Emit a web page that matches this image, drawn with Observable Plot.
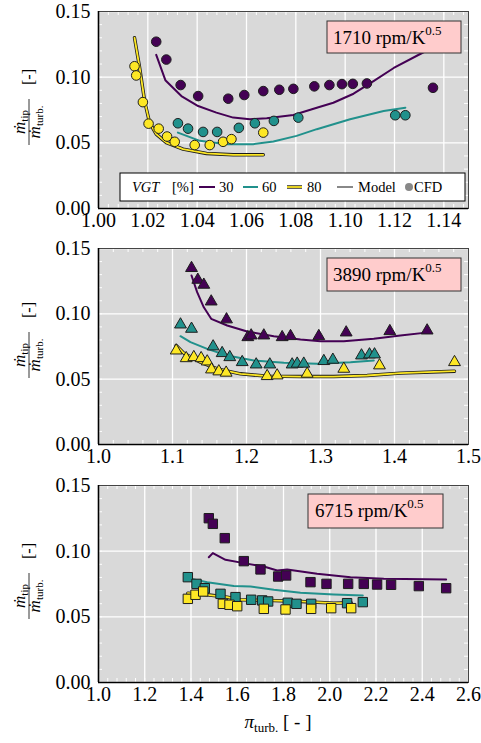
<!DOCTYPE html>
<html><head><meta charset="utf-8">
<script src="https://cdn.jsdelivr.net/npm/d3@7"></script>
<script src="https://cdn.jsdelivr.net/npm/@observablehq/plot@0.6"></script>
<style>
body{margin:0;background:#fff;}
#chart{position:relative;width:481px;height:743px;}
#chart svg{position:absolute;left:0;}
</style></head><body><div id="chart"></div>
<script>
// ---------- data ----------
const vgtLevels = ["30", "60", "80"];
const vgtColors = ["#440154", "#21918c", "#fde725"];
const speedLabels = ["1710", "3890", "6715"];
const yTicks = [0, 0.05, 0.10, 0.15];
const xTicks1710 = [1.00, 1.02, 1.04, 1.06, 1.08, 1.10, 1.12, 1.14];
const xTicks3890 = [1.0, 1.1, 1.2, 1.3, 1.4, 1.5];
const xTicks6715 = [1.0, 1.2, 1.4, 1.6, 1.8, 2.0, 2.2, 2.4, 2.6];

// 1710 rpm/K^0.5  [pi_turb, mdot_tip/mdot_turb]
const cfd1710_vgt30 = [[1.0234,0.127],[1.0275,0.1134],[1.0333,0.094],[1.0404,0.0856],[1.0526,0.0836],[1.0591,0.0864],[1.0668,0.0894],[1.0733,0.0904],[1.079,0.0911],[1.0875,0.093],[1.0936,0.094],[1.0987,0.0947],[1.1031,0.0949],[1.1088,0.0952],[1.1356,0.0919]];
const model1710_vgt30 = [[1.0234,0.117],[1.0271,0.0977],[1.0336,0.0856],[1.0404,0.078],[1.0478,0.073],[1.0546,0.0692],[1.0614,0.068],[1.0682,0.0687],[1.079,0.0712],[1.0885,0.0767],[1.0952,0.0805],[1.1034,0.0874],[1.1115,0.097],[1.1197,0.107],[1.1312,0.1184],[1.14,0.127]];
const cfd1710_vgt60 = [[1.0322,0.0649],[1.0363,0.0608],[1.0424,0.0583],[1.0481,0.0583],[1.0569,0.0614],[1.0634,0.0649],[1.0711,0.0667],[1.081,0.0692],[1.1203,0.071],[1.1244,0.071]];
const model1710_vgt60 = [[1.0322,0.0578],[1.0411,0.0515],[1.0519,0.049],[1.0627,0.049],[1.0709,0.051],[1.0803,0.0553],[1.0885,0.0604],[1.102,0.068],[1.1156,0.0742],[1.1244,0.0767]];
const cfd1710_vgt80 = [[1.0146,0.1083],[1.0153,0.1013],[1.018,0.081],[1.0203,0.0646],[1.0244,0.0608],[1.0278,0.0548],[1.0309,0.0508],[1.039,0.0483],[1.0451,0.0483],[1.0505,0.0508],[1.0539,0.0528],[1.0668,0.0578]];
const model1710_vgt80 = [[1.0146,0.13],[1.0167,0.107],[1.0187,0.0818],[1.0207,0.0654],[1.0234,0.0566],[1.0275,0.0502],[1.0343,0.0452],[1.0438,0.0419],[1.0546,0.0409],[1.0668,0.0409]];

// 3890 rpm/K^0.5
const cfd3890_vgt30 = [[1.1257,0.135],[1.1342,0.126],[1.1423,0.1222],[1.1523,0.1094],[1.173,0.0957],[1.2018,0.0821],[1.2063,0.0834],[1.2234,0.0834],[1.2482,0.0821],[1.2595,0.0829],[1.2977,0.0829],[1.3347,0.0857],[1.3937,0.0867],[1.4441,0.0872]];
const model3890_vgt30 = [[1.1257,0.1293],[1.1333,0.1166],[1.1423,0.105],[1.1523,0.0962],[1.1739,0.0911],[1.2009,0.0865],[1.2369,0.0829],[1.273,0.0804],[1.3,0.0791],[1.3315,0.0791],[1.372,0.0809],[1.408,0.0834],[1.4486,0.086]];
const cfd3890_vgt60 = [[1.1108,0.0918],[1.1257,0.0885],[1.1549,0.075],[1.1671,0.0699],[1.1774,0.0668],[1.1942,0.063],[1.2131,0.0612],[1.2315,0.0612],[1.2617,0.0612],[1.2685,0.0618],[1.2774,0.0618],[1.3045,0.0638],[1.3167,0.0648],[1.3554,0.0681],[1.3662,0.0689],[1.373,0.0689]];
const model3890_vgt60 = [[1.1108,0.0829],[1.1243,0.0783],[1.1469,0.0732],[1.1739,0.0681],[1.2099,0.0643],[1.2505,0.0625],[1.2955,0.0618],[1.3405,0.063],[1.372,0.0643]];
const cfd3890_vgt80 = [[1.105,0.0719],[1.1185,0.066],[1.1288,0.0668],[1.1387,0.066],[1.1469,0.0635],[1.1527,0.0574],[1.1626,0.0559],[1.1725,0.0549],[1.2279,0.0523],[1.2414,0.0528],[1.282,0.0541],[1.3315,0.0579],[1.3797,0.0605],[1.4811,0.063]];
const model3890_vgt80 = [[1.105,0.0758],[1.1153,0.0699],[1.1378,0.063],[1.1604,0.0579],[1.1919,0.0541],[1.2279,0.0523],[1.273,0.052],[1.3178,0.052],[1.3631,0.0528],[1.4081,0.0546],[1.4811,0.0561]];

// 6715 rpm/K^0.5
const cfd6715_vgt30 = [[1.477,0.1251],[1.4944,0.1208],[1.546,0.1099],[1.6283,0.0924],[1.7005,0.0861],[1.777,0.0807],[1.8114,0.0815],[1.9167,0.0764],[1.9859,0.0751],[2.0796,0.0751],[2.1472,0.0751],[2.2047,0.0746],[2.2652,0.0744],[2.3852,0.0734],[2.5034,0.0718]];
const model6715_vgt30 = [[1.477,0.0954],[1.4944,0.0985],[1.5492,0.0934],[1.6283,0.0909],[1.7149,0.0883],[1.7726,0.0853],[1.8157,0.0861],[1.9452,0.0828],[2.0897,0.0802],[2.2337,0.079],[2.5034,0.0784]];
const cfd6715_vgt60 = [[1.3863,0.0802],[1.4238,0.0751],[1.4597,0.0718],[1.5276,0.0675],[1.5924,0.065],[1.6603,0.063],[1.7077,0.0625],[1.7336,0.0617],[1.8184,0.0607],[1.8562,0.0599],[1.9196,0.0599],[2.075,0.0604],[2.1429,0.0612]];
const model6715_vgt60 = [[1.3978,0.079],[1.4701,0.0764],[1.5852,0.0734],[1.6573,0.0731],[1.7582,0.0706],[1.8735,0.0683],[2.0177,0.067],[2.1429,0.0663]];
const cfd6715_vgt80 = [[1.3863,0.0637],[1.4195,0.0668],[1.4527,0.0693],[1.5376,0.0599],[1.5665,0.0592],[1.5998,0.0581],[1.7149,0.0561],[1.8087,0.0556],[1.9196,0.0561],[2.0062,0.0566],[2.0927,0.0566]];
const model6715_vgt80 = [[1.3863,0.068],[1.4701,0.0668],[1.5561,0.065],[1.614,0.063],[1.7295,0.0625],[1.8735,0.0617],[2.0177,0.0604],[2.0927,0.0607]];

// ---------- rendering ----------
const serif = "'Liberation Serif', 'DejaVu Serif', serif";
const W = 481, ML = 98, MR = 13, MT = 11;
const root = d3.select("#chart");

function panel(cfg) {
  const plotH = cfg.height - MT - cfg.marginBottom;
  const plotW = W - ML - MR;
  const yMinor = d3.range(0, 0.1501, 0.01);
  const marks = [
    Plot.frame({fill: "#d9d9d9", stroke: null}),
    Plot.ruleX(cfg.xTicks, {stroke: "white", strokeWidth: 1.3}),
    Plot.ruleY(yTicks, {stroke: "white", strokeWidth: 1.3}),
    Plot.tickX(cfg.xMinor, {x: d => d, stroke: "white", strokeWidth: 1, insetBottom: plotH - 4}),
    Plot.tickX(cfg.xMinor, {x: d => d, stroke: "white", strokeWidth: 1, insetTop: plotH - 4}),
    Plot.tickY(yMinor, {y: d => d, stroke: "white", strokeWidth: 1, insetRight: plotW - 4}),
    Plot.tickY(yMinor, {y: d => d, stroke: "white", strokeWidth: 1, insetLeft: plotW - 4}),
    Plot.axisX(cfg.xTicks, {anchor: "bottom", tickSize: 0, tickPadding: 4, tickFormat: d3.format(cfg.xFormat), fontSize: 20, fontFamily: serif, label: null}),
    Plot.axisY(yTicks, {anchor: "left", tickSize: 0, tickPadding: 8, tickFormat: d3.format(".2f"), fontSize: 20, fontFamily: serif, label: null})
  ];
  cfg.series.forEach((s, i) => {
    const color = vgtColors[i];
    if (i === 2) marks.push(Plot.line(s.model, {x: d => d[0], y: d => d[1], stroke: "#1a1a1a", strokeWidth: 3.4}));
    marks.push(Plot.line(s.model, {x: d => d[0], y: d => d[1], stroke: color, strokeWidth: i === 2 ? 1.8 : 2}));
  });
  cfg.series.forEach((s, i) => {
    marks.push(Plot.dot(s.cfd, {x: d => d[0], y: d => d[1], symbol: cfg.symbol, r: cfg.r, fill: vgtColors[i], stroke: "#1e1e1e", strokeWidth: 1, fillOpacity: 1}));
  });
  marks.push(Plot.frame({stroke: "#444", strokeWidth: 1}));
  marks.push(Plot.ruleX([cfg.xDomain[0]], {stroke: "black", strokeWidth: 1.6}));
  marks.push(Plot.ruleY([0], {stroke: "black", strokeWidth: 1.6}));

  const chart = Plot.plot({
    width: W, height: cfg.height,
    marginTop: MT, marginBottom: cfg.marginBottom, marginLeft: ML, marginRight: MR,
    x: {type: "linear", domain: cfg.xDomain},
    y: {domain: [0, 0.15]},
    style: {fontFamily: serif, fontSize: "20px", background: "transparent", color: "black"},
    marks
  });
  chart.style.top = cfg.top + "px";
  root.node().appendChild(chart);
  const svg = d3.select(chart);

  // y label
  const g = svg.append("g").attr("transform", `translate(29,${cfg.labelCy}) rotate(-90)`)
    .attr("font-family", serif).attr("fill", "black").attr("text-anchor", "start");
  const num = g.append("text").attr("x", 0).attr("y", -4).attr("text-anchor", "middle");
  num.append("tspan").attr("font-style", "italic").attr("font-size", 17).text("ṁ");
  num.append("tspan").attr("font-size", 11).attr("dy", 3).text("tip");
  const den = g.append("text").attr("x", 0).attr("y", 11).attr("text-anchor", "middle");
  den.append("tspan").attr("font-style", "italic").attr("font-size", 17).text("ṁ");
  den.append("tspan").attr("font-size", 11).attr("dy", 3).text("turb.");
  g.append("line").attr("x1", -23).attr("x2", 23).attr("y1", 0).attr("y2", 0).attr("stroke", "black").attr("stroke-width", 0.8);
  g.append("text").attr("x", 37).attr("y", 5).attr("font-size", 16).attr("text-anchor", "start").text("[-]");

  // speed box
  const b = cfg.box;
  svg.append("rect").attr("x", b.x).attr("y", b.y).attr("width", b.w).attr("height", b.h)
    .attr("fill", "#ffcccc").attr("stroke", "#333").attr("stroke-width", 1);
  const t = svg.append("text").attr("x", b.tx).attr("y", b.y + 23).attr("text-anchor", "start")
    .attr("font-family", serif).attr("font-size", 19).attr("fill", "black");
  t.append("tspan").text(cfg.speed + " rpm/K");
  t.append("tspan").attr("font-size", 13).attr("dy", -9).text("0.5");
  return svg;
}

const svg1 = panel({
  top: 0, height: 237, marginBottom: 29, xDomain: [1.00, 1.15], xTicks: xTicks1710,
  xMinor: d3.range(1.0, 1.1501, 0.004), xFormat: ".2f", symbol: "circle", r: 4.8,
  series: [{cfd: cfd1710_vgt30, model: model1710_vgt30}, {cfd: cfd1710_vgt60, model: model1710_vgt60}, {cfd: cfd1710_vgt80, model: model1710_vgt80}],
  labelCy: 122, speed: speedLabels[0], box: {x: 327, y: 21, w: 134, h: 32, tx: 333}
});
panel({
  top: 237, height: 237, marginBottom: 30, xDomain: [1.0, 1.5], xTicks: xTicks3890,
  xMinor: d3.range(1.0, 1.5001, 0.02), xFormat: ".1f", symbol: "triangle", r: 4.4,
  series: [{cfd: cfd3890_vgt30, model: model3890_vgt30}, {cfd: cfd3890_vgt60, model: model3890_vgt60}, {cfd: cfd3890_vgt80, model: model3890_vgt80}],
  labelCy: 118, speed: speedLabels[1], box: {x: 327, y: 21, w: 134, h: 33, tx: 333}
});
const svg3 = panel({
  top: 474, height: 269, marginBottom: 61, xDomain: [1.0, 2.6], xTicks: xTicks6715,
  xMinor: d3.range(1.0, 2.6001, 0.04), xFormat: ".1f", symbol: "square", r: 5.3,
  series: [{cfd: cfd6715_vgt30, model: model6715_vgt30}, {cfd: cfd6715_vgt60, model: model6715_vgt60}, {cfd: cfd6715_vgt80, model: model6715_vgt80}],
  labelCy: 122, speed: speedLabels[2], box: {x: 308, y: 20, w: 135, h: 34, tx: 315}
});

// x label (bottom panel)
const xl = svg3.append("text").attr("x", 278).attr("y", 254).attr("text-anchor", "middle")
  .attr("font-family", serif).attr("font-size", 19).attr("fill", "black");
xl.append("tspan").attr("font-style", "italic").text("π");
xl.append("tspan").attr("font-size", 13).attr("dy", 4).text("turb.");
xl.append("tspan").attr("dy", -4).text(" [ - ]");

// legend (top panel)
const lg = svg1.append("g").attr("font-family", serif).attr("font-size", 14.5).attr("text-anchor", "start").attr("fill", "black");
lg.append("rect").attr("x", 120).attr("y", 173).attr("width", 345).attr("height", 28).attr("fill", "white").attr("stroke", "black").attr("stroke-width", 1);
const ly = 187, lb = 192;
lg.append("text").attr("x", 132).attr("y", lb).attr("font-style", "italic").text("VGT");
lg.append("text").attr("x", 172).attr("y", lb).text("[%]");
const legItems = [
  {x1: 199, x2: 215, tx: 219, label: vgtLevels[0], color: vgtColors[0]},
  {x1: 243, x2: 258, tx: 262, label: vgtLevels[1], color: vgtColors[1]},
  {x1: 287, x2: 302, tx: 307, label: vgtLevels[2], color: vgtColors[2]}
];
legItems.forEach((it, i) => {
  if (i === 2) lg.append("line").attr("x1", it.x1).attr("x2", it.x2).attr("y1", ly).attr("y2", ly).attr("stroke", "#1a1a1a").attr("stroke-width", 3.4);
  lg.append("line").attr("x1", it.x1).attr("x2", it.x2).attr("y1", ly).attr("y2", ly).attr("stroke", it.color).attr("stroke-width", i === 2 ? 1.8 : 2);
  lg.append("text").attr("x", it.tx).attr("y", lb).text(it.label);
});
lg.append("line").attr("x1", 337).attr("x2", 353).attr("y1", ly).attr("y2", ly).attr("stroke", "#888").attr("stroke-width", 2);
lg.append("text").attr("x", 358).attr("y", lb).text("Model");
lg.append("circle").attr("cx", 409).attr("cy", ly).attr("r", 4).attr("fill", "#888");
lg.append("text").attr("x", 414).attr("y", lb).text("CFD");
</script></body></html>
